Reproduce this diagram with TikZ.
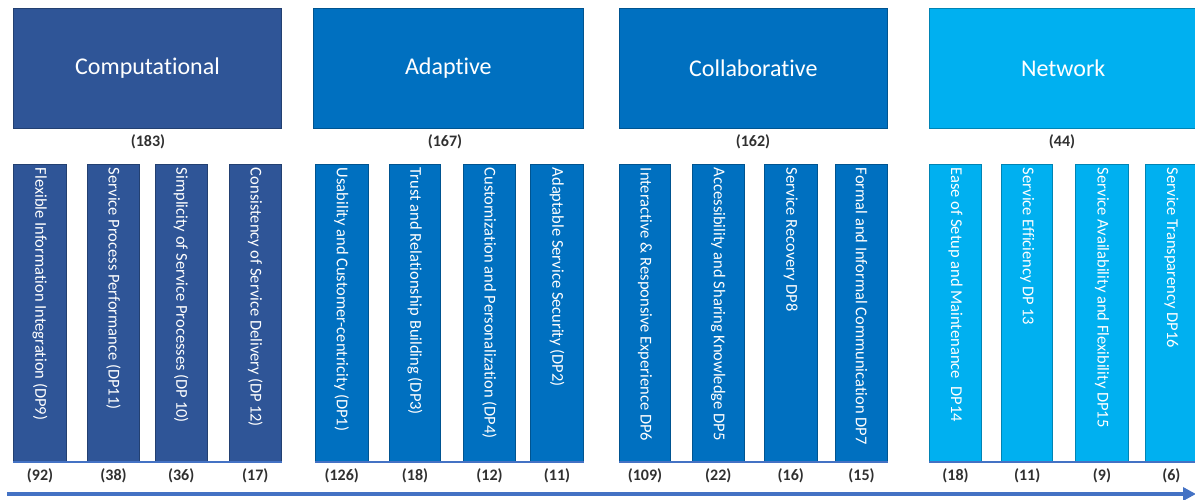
\documentclass[tikz,border=0pt]{standalone}
\usepackage{fontspec}
\setmainfont{Carlito}[Ligatures=NoCommon]
\usetikzlibrary{arrows.meta}
\definecolor{compc}{HTML}{2F5597}
\definecolor{adapc}{HTML}{0070C0}
\definecolor{netc}{HTML}{00B0F0}
\definecolor{linec}{HTML}{4472C4}
\definecolor{numc}{HTML}{303030}
\begin{document}
\begin{tikzpicture}[x=1pt,y=-1pt,
  header/.style={draw=#1!75!black, line width=0.6pt, fill=#1, text=white, inner sep=0pt,
    minimum height=120pt, font=\fontsize{24}{28}\selectfont},
  barbox/.style={draw=#1!75!black, line width=0.6pt, fill=#1, inner sep=0pt,
    minimum height=297.7pt},
  bartext/.style={text=white, rotate=-90, anchor=west, inner sep=0pt,
    font=\fontsize{16.5}{19}\selectfont},
  count/.style={text=numc, inner sep=0pt, font=\fontsize{16}{19}\selectfont\bfseries},
  baseline/.style={draw=linec, line width=2pt},
  timeline/.style={draw=linec, line width=3.5pt, -{Triangle[length=13pt,width=13pt]}}
]
\useasboundingbox (0,0) rectangle (1195,500);
\clip (0,0) rectangle (1195,500);

% headers
\node[header=compc, minimum width=268.4pt] (hcomp) at (147.5,68.3) {Computational};
\node[header=adapc, minimum width=270pt] (hadap) at (448.3,68.3) {Adaptive};
\node[header=adapc, minimum width=268pt] (hcoll) at (753.3,68.3) {Collaborative};
\node[header=netc, minimum width=268pt] (hnet) at (1063.2,68.3) {Network};

% header counts
\node[count] (ccomp) at (148,141.7) {(183)};
\node[count] (cadap) at (445,141.7) {(167)};
\node[count] (ccoll) at (753,141.7) {(162)};
\node[count] (cnet) at (1062,141.7) {(44)};

% bars
\foreach \n/\x/\w/\c/\t/\v in {
  b1/40/53.4/compc/{Flexible Information Integration (DP9)}/92,
  b2/113.5/51.6/compc/{Service Process Performance (DP11)}/38,
  b3/181.2/52.3/compc/{Simplicity of Service Processes (DP\,10)}/36,
  b4/255.3/52.7/compc/{Consistency of Service Delivery (DP\,12)}/17,
  b5/341.7/53.3/adapc/{Usability and Customer-centricity (DP1)}/126,
  b6/415/51.4/adapc/{Trust and Relationship Building (DP3)}/18,
  b7/489.5/52.4/adapc/{Customization and Personalization (DP4)}/12,
  b8/557/52.6/adapc/{Adaptable Service Security (DP2)}/11,
  b9/645/51.4/adapc/{Interactive \& Responsive Experience DP6}/109,
  b10/718.3/52/adapc/{Accessibility and Sharing Knowledge DP5}/22,
  b11/790.8/53/adapc/{Service Recovery DP8}/16,
  b12/861.5/51.6/adapc/{Formal and Informal Communication DP7}/15,
  b13/955.5/52.4/netc/{Ease of Setup and Maintenance~~DP14}/18,
  b14/1027.2/51/netc/{Service Efficiency DP\,13}/11,
  b15/1102/52.6/netc/{Service Availability and Flexibility DP15}/9,
  b16/1171.4/51.4/netc/{Service Transparency DP16}/6}
{
  \node[barbox=\c, minimum width=\w pt] (\n) at (\x,312.8) {};
  \node[bartext] (\n t) at ([yshift=-4pt]\n.north) {\t};
  \node[count] (\n c) at (\x,476) {(\v)};
}

% group baselines
\draw[baseline] (b1.south west) -- (b4.south east);
\draw[baseline] (b5.south west) -- (b8.south east);
\draw[baseline] (b9.south west) -- (b12.south east);
\draw[baseline] (b13.south west) -- (b16.south east);

% timeline arrow
\coordinate (tstart) at (7,494);
\coordinate (tend) at (1196,494);
\draw[timeline] (tstart) -- (tend);
\end{tikzpicture}
\end{document}
